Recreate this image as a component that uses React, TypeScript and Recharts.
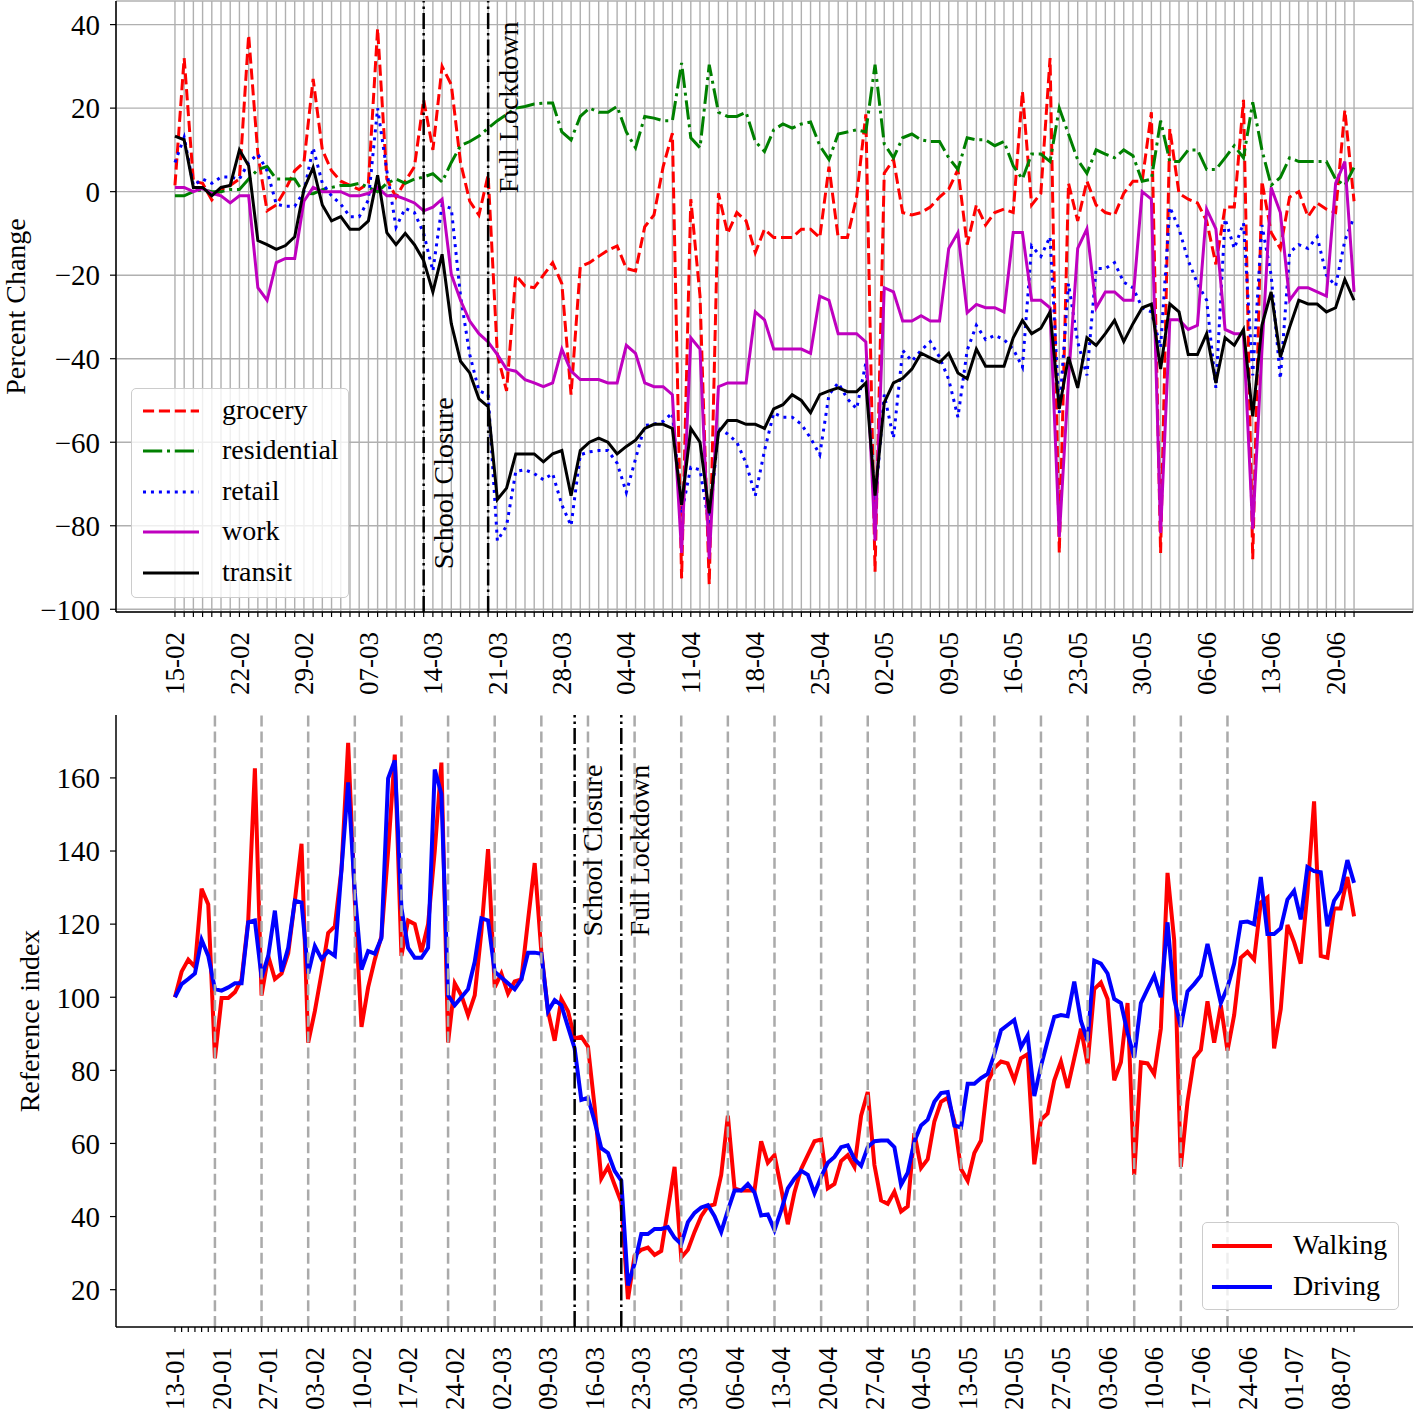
import React from 'react';
import { LineChart, Line, XAxis, YAxis, CartesianGrid, ReferenceLine, Legend } from 'recharts';

const SERIF = '"Liberation Serif", "Times New Roman", Times, serif';

// Google mobility, percent change, one value per day from 15-02
const grocery = [
  1.5, 32, 2.5, 2, -2, 0.5, 1.5, 3, 37.5, 9,
  -4.6, -3.2, 0.5, 5, 7, 27, 10, 5, 2.5, 1.5,
  0.5, 2, 39, 3, -1.3, 2.5, 6, 22, 10, 30,
  25.6, 7, -2.3, -5.6, 4, -39, -47.7, -20, -22.6, -23,
  -20, -17, -22, -48.6, -18, -17, -15.5, -14, -13, -18.4,
  -19, -8.4, -5.6, 6, 14, -92.6, -1.8, -25, -94, -0.4,
  -10, -5, -7, -14.6, -9, -11, -11, -11, -9, -9,
  -11, 6, -11, -11, -1.3, 18.5, -91, 4.4, 7.7, -5,
  -5.6, -5, -3.7, -1.3, 0.6, 5.3, -12.7, -3.2, -8, -5,
  -4.2, -5, 24, -3.2, -0.4, 32, -86.5, 2, -7, 2.5,
  -3.2, -5, -5.6, -0.4, 2.5, 2.5, 19, -86.5, 15, -0.4,
  -1.8, -2.7, -7, -17.4, -3.7, -3.7, 22, -88, 2.5, -9.8,
  -13.6, -1.3, 0, -6, -2.7, -4.2, -5, 19.5, -2.3,
];
const residential = [
  -1, -1, 0, 0.5, 0, 0, 0.5, 0.5, 3, 5.3,
  6, 3, 3, 3, -0.4, -0.5, 0.5, 1, 1.5, 1.5,
  2, 1, 0, 2, 3, 2, 3, 3.5, 4.3, 2.3,
  7, 11, 12, 13.3, 15.2, 17, 18.5, 20, 20.4, 21,
  21.2, 21.2, 14.3, 12.4, 18, 20, 19, 19, 20.4, 14.3,
  10.5, 18, 17.6, 17, 17, 30.8, 12.9, 10.5, 30.4, 19,
  18, 18, 19, 12, 9.6, 14.8, 16.2, 15.2, 16.2, 16.7,
  11, 7.7, 13.8, 14.3, 14.8, 14.3, 30.4, 11.4, 8.1, 12.9,
  13.8, 12.4, 12, 12, 8.1, 5.3, 12.9, 12.4, 12.4, 11,
  12, 6.2, 3, 9, 9, 7.2, 20, 13.8, 7.6, 4.4,
  10, 9, 8.1, 10, 8.6, 2.5, 3, 17, 7.2, 7.2,
  10, 10, 5.3, 5.3, 8.1, 11, 8.1, 21.4, 10, 1.5,
  3.4, 8.1, 7.2, 7.2, 7.2, 7.2, 3, 1.5, 5.8,
];
const retail = [
  7, 13, 1.5, 3, 2, 3.5, 3.5, 3, 7, 9,
  5, -3, -3.5, -3.5, 0, 10.5, 2, -1, -3, -6,
  -6, -2, 20, 5, -8.5, -4, -5, -10, -19, -3.2,
  -4, -25, -39, -47.7, -48.6, -83.6, -80, -67, -66.6, -67.5,
  -69, -67.5, -75, -80, -63, -62.3, -62, -62, -65, -72,
  -64, -56, -55.7, -55, -53, -77, -66, -66.6, -80, -56.7,
  -58, -60, -65, -72.8, -62, -53, -54, -54, -55.7, -59,
  -63, -48.6, -45.8, -49.6, -52, -41, -75, -48.6, -59, -38,
  -40.6, -38, -35.9, -39.6, -45, -54, -38, -32, -35.4, -34.4,
  -35.4, -37.7, -42, -13, -15.5, -10.8, -53, -22, -36, -44,
  -18.4, -18.4, -17, -21.7, -23, -27.8, -28.8, -37.3, -3.7, -8.9,
  -16.5, -22, -26, -47, -6.5, -13.6, -7.5, -44, -8, -20,
  -44.8, -14.6, -12.7, -13.6, -10.8, -20, -22.6, -11.7, -6,
];
const work = [
  1, 1, 0, 0.8, -0.4, -1, -2.7, -1, -1, -23,
  -26, -17, -16, -16, -2.3, 1, 0, 0, 0, -1,
  -1, -0.4, 1, -1, -1, -1.8, -2.7, -4.6, -3.7, -1.8,
  -19.8, -26, -31, -34, -36, -39, -42.5, -43, -45, -45.8,
  -46.7, -45.8, -37.7, -43, -45, -45, -45, -45.8, -45.8, -36.8,
  -38.7, -45.8, -46.7, -46.7, -48.6, -86.5, -35, -37.7, -88, -46.7,
  -45.8, -45.8, -45.8, -28.8, -30.7, -37.7, -37.7, -37.7, -37.7, -38.7,
  -25, -26, -34, -34, -34, -36, -83.6, -23, -24, -31,
  -31, -29.7, -31, -31, -13.6, -9.8, -29, -27, -27.8, -27.8,
  -28.8, -9.8, -9.8, -26, -26, -27.8, -82.7, -45, -13.6, -8.9,
  -27.8, -24, -24, -26, -26, 0, -1.8, -81.7, -30.7, -30.7,
  -33, -32, -4.2, -8.9, -33, -34, -34, -80.8, -38, 1,
  -5, -26, -23, -23, -24, -25, 2, 7.2, -24,
];
const transit = [
  13.3, 12.4, 1, 1, -1, 1, 1.5, 10, 6.2, -11.7,
  -12.7, -13.8, -12.9, -10.8, 0.6, 5.8, -3.2, -7, -6, -9,
  -9, -7, 3.9, -9.8, -12.7, -10, -12.7, -16.5, -24, -15,
  -31.6, -40.6, -43.4, -49.6, -51.5, -73.7, -71, -62.8, -62.8, -62.8,
  -64.7, -62.8, -62, -72.8, -62, -60, -59, -60, -62.8, -61,
  -59.5, -56.7, -55.7, -55.7, -56.7, -75, -56.7, -60, -77, -57.6,
  -54.8, -54.8, -55.7, -55.7, -56.7, -52, -51, -48.6, -50, -52.9,
  -48.6, -47.7, -47, -47.9, -47.9, -45.8, -72.8, -50.5, -45.8, -44.7,
  -42.5, -38.7, -39.8, -40.9, -38.7, -43.4, -44.8, -37.7, -41.8, -41.8,
  -41.8, -35, -30.8, -34, -32.7, -28.8, -52, -39.6, -47, -35,
  -36.8, -34, -30.8, -35.9, -31.6, -27.8, -26.9, -42.5, -26.9, -28.8,
  -39, -39, -34, -45.8, -35, -36.8, -33, -53.8, -32, -24,
  -39.6, -32.5, -26, -26.9, -26.9, -28.8, -27.8, -21, -26,
];

// Apple mobility, reference index, one value per day from 13-01 (11-05 and 12-05 missing)
const walking = [
  100, 107, 110.3, 108.3, 129.7, 125.4, 83.3, 99.8, 99.8, 101.4,
  104.9, 121, 162.6, 100.5, 111.3, 105, 106.5, 112, 126.4, 142,
  87.6, 96.2, 106.5, 117.6, 119.4, 135, 169.6, 126.4, 91.9, 102.7,
  110.3, 116.7, 140, 166.4, 111.3, 121, 120, 112.4, 120, 140,
  164.2, 87.6, 103.8, 100.5, 95.1, 100.5, 118, 140.5, 102.7, 106.5,
  101, 104.3, 104.9, 121, 136.7, 112.4, 96.2, 88.1, 99.5, 96.2,
  88.7, 89.2, 86.5, 70, 50.4, 53.6, 48.7, 43.9, 17.4, 29.3,
  30.9, 31.5, 29.5, 30.6, 42, 53.6, 28.8, 30.9, 35.8, 40.1,
  42.8, 43.3, 51.4, 67.6, 47.7, 47.1, 47.1, 47.1, 60.6, 54.7,
  56.8, 47.7, 37.9, 46.6, 53, 56.8, 60.6, 61.1, 47.7, 48.9,
  55.2, 56.8, 53.6, 67.6, 74.1, 54.1, 44.4, 43.5, 46.8, 41.4,
  42.8, 62.8, 53.3, 55.7, 66, 71.4, 72.5, 66, 53, 49.8,
  57.4, 60.8, 76.8, 80.6, 82.4, 81.9, 77.3, 83.3, 84.4, 54.3,
  66.5, 68.2, 77.3, 82.4, 75.2, 83.3, 91.4, 81.7, 102.2, 104,
  99.5, 77.3, 82.2, 98.4, 51.4, 82.2, 81.9, 79, 91.4, 134,
  115.6, 53.6, 71.4, 83.3, 85.6, 98.9, 87.6, 97.8, 85.4, 95.1,
  110.8, 112.4, 110.3, 125.9, 127.3, 86, 96.8, 119.8, 115.1, 109.2,
  128.6, 153.6, 111.3, 110.8, 124.3, 124.3, 132.9, 122.1,
];
const driving = [
  100, 103.6, 105, 106.5, 115.7, 111.3, 102.2, 101.8, 102.7, 103.8,
  103.8, 120.5, 121, 105.4, 111.3, 123.7, 107, 113.5, 126.4, 125.9,
  106.5, 114, 110.5, 112.6, 111.3, 135, 158.8, 128.6, 107.6, 112.6,
  111.9, 116.2, 159.9, 164.8, 124.3, 113.5, 110.8, 110.8, 113.5, 162.3,
  155.6, 100.5, 97.8, 100, 102.2, 109.7, 121.6, 121, 107, 105.4,
  103.8, 102.2, 104.9, 112.2, 112.2, 111.9, 96.2, 99.2, 97.8, 91.9,
  86, 71.9, 72.5, 66, 58.7, 57.4, 52.5, 49.8, 21.2, 27.1,
  35.2, 35.2, 36.6, 36.6, 37.1, 34.2, 32.5, 38.5, 41, 42.5,
  43.1, 40.1, 35.8, 41.7, 47.1, 47.1, 48.9, 46.6, 40.3, 40.6,
  36.3, 41.7, 47.7, 50.4, 52.5, 51.4, 46.4, 50.9, 54.7, 56.3,
  59, 59.5, 55.7, 53.9, 59, 60.6, 60.8, 60.8, 59, 48.7,
  52, 60.6, 64.9, 66.5, 71.4, 73.8, 74.1, 64.9, 64.4, 76.3,
  76.3, 77.9, 79, 84.4, 91, 92.4, 93.8, 86.3, 89.5, 73,
  81.1, 88.1, 94.6, 95.1, 94.8, 104.3, 93.5, 88.1, 110, 109.2,
  106.5, 99.5, 98.4, 90.3, 83.5, 98.4, 102.2, 105.9, 100, 120.5,
  99.5, 91.9, 101.6, 103.6, 105.9, 114.6, 106.5, 98.4, 102.7, 109.2,
  120.5, 120.7, 120, 132.9, 117.3, 117.3, 118.9, 126.7, 129.1, 121.3,
  135.6, 134.5, 134.2, 119.4, 126.4, 129.1, 137.5, 131.3,
];

const topStart = [2020, 2, 15];
const bottomStart = [2020, 1, 13];
const bottomMissing = ['11-05', '12-05'];
const lastSundayLine = '21-06';
const schoolClosure = '13-03';
const fullLockdown = '20-03';
const labelEvery = 7;

const topYTicks = [40, 20, 0, -20, -40, -60, -80, -100];
const bottomYTicks = [20, 40, 60, 80, 100, 120, 140, 160];

const topSeries = [
  { key: 'grocery', values: grocery, color: '#ff0000', dash: '11.1 4.8' },
  { key: 'residential', values: residential, color: '#008000', dash: '19.2 4.8 3 4.8' },
  { key: 'retail', values: retail, color: '#0000ff', dash: '3 4.95' },
  { key: 'work', values: work, color: '#bf00bf', dash: undefined },
  { key: 'transit', values: transit, color: '#000000', dash: undefined },
];
const bottomSeries = [
  { key: 'Walking', values: walking, color: '#ff0000', dash: undefined },
  { key: 'Driving', values: driving, color: '#0000ff', dash: undefined },
];

const pad2 = (n: number) => String(n).padStart(2, '0');

function buildDays(start: number[], count: number, skip: string[] = []) {
  const days: { label: string; sunday: boolean }[] = [];
  const d = new Date(start[0], start[1] - 1, start[2]);
  while (days.length < count) {
    const label = `${pad2(d.getDate())}-${pad2(d.getMonth() + 1)}`;
    if (!skip.includes(label)) days.push({ label, sunday: d.getDay() === 0 });
    d.setDate(d.getDate() + 1);
  }
  return days;
}

// same 5% padding matplotlib puts round the data
const autoDomain = (lo: number, hi: number): [number, number] => {
  const m = (hi - lo) * 0.05;
  return [lo - m, hi + m];
};

const minus = (v: number) => (v < 0 ? `\u2212${Math.abs(v)}` : `${v}`);

const topDays = buildDays(topStart, grocery.length);
const topData = topDays.map((d, i) => {
  const row: Record<string, number> = { i };
  topSeries.forEach((s) => (row[s.key] = s.values[i]));
  return row;
});
const topAll = topSeries.flatMap((s) => s.values);
const topXDomain = autoDomain(0, grocery.length - 1);
const topYDomain = autoDomain(Math.min(...topAll), Math.max(...topAll));

const bottomDays = buildDays(bottomStart, walking.length, bottomMissing);
const bottomData = bottomDays.map((d, i) => {
  const row: Record<string, number> = { i };
  bottomSeries.forEach((s) => (row[s.key] = s.values[i]));
  return row;
});
const bottomAll = bottomSeries.flatMap((s) => s.values);
const bottomXDomain = autoDomain(0, walking.length - 1);
const bottomYDomain = autoDomain(Math.min(...bottomAll), Math.max(...bottomAll));
const sundayEnd = bottomDays.findIndex((d) => d.label === lastSundayLine);
const sundays = bottomDays.map((d, i) => (d.sunday && i <= sundayEnd ? i : -1)).filter((i) => i >= 0);

const idxOf = (days: { label: string }[], label: string) => days.findIndex((d) => d.label === label);

const DayTick = (props: any) => {
  const { x, y, payload, days, labelSize } = props;
  const i = payload.value;
  if (i % labelEvery !== 0 || !days[i]) return <g />;
  const ty = y + 15;
  return (
    <g>
      <text
        x={x}
        y={ty}
        transform={`rotate(-90 ${x} ${ty})`}
        textAnchor="end"
        dy="0.34em"
        fontSize={labelSize}
        fontFamily={SERIF}
        fill="#000"
      >
        {days[i].label}
      </text>
    </g>
  );
};

const AxisTitle = (props: any) => {
  const { viewBox, caption, shiftX } = props;
  const cx = viewBox.x + shiftX;
  const cy = viewBox.y + viewBox.height / 2;
  return (
    <text x={cx} y={cy} transform={`rotate(-90 ${cx} ${cy})`} textAnchor="middle" dy="0.35em" fontSize={28} fontFamily={SERIF} fill="#000">
      {caption}
    </text>
  );
};

const EventLabel = (props: any) => {
  const { viewBox, caption, shiftX, startValue, yDomain } = props;
  const x = viewBox.x + shiftX;
  const y = viewBox.y + ((yDomain[1] - startValue) / (yDomain[1] - yDomain[0])) * viewBox.height;
  return (
    <text x={x} y={y} transform={`rotate(-90 ${x} ${y})`} textAnchor="start" dy="0.35em" fontSize={28} fontFamily={SERIF} fill="#000">
      {caption}
    </text>
  );
};

const LegendBox = ({ items, width, height, padTop, rowH, sampleX, sampleW, textX, lineW }: any) => (
  <div
    style={{
      position: 'relative',
      width,
      height,
      boxSizing: 'border-box',
      background: 'rgba(255,255,255,0.8)',
      border: '1px solid #cccccc',
      borderRadius: 5,
      fontFamily: SERIF,
      fontSize: 28,
      color: '#000',
    }}
  >
    {items.map((it: any, k: number) => {
      const cy = padTop + rowH * k + rowH / 2;
      return (
        <React.Fragment key={it.key}>
          <svg style={{ position: 'absolute', left: sampleX, top: cy - 5 }} width={sampleW} height={10}>
            <line x1={0} y1={5} x2={sampleW} y2={5} stroke={it.color} strokeWidth={lineW} strokeDasharray={it.dash} />
          </svg>
          <span style={{ position: 'absolute', left: textX, top: cy, transform: 'translateY(-52%)', lineHeight: 1, whiteSpace: 'nowrap' }}>
            {it.key}
          </span>
        </React.Fragment>
      );
    })}
  </div>
);

const axisStroke = { stroke: '#000', strokeWidth: 1.5 };

const App: React.FC = () => {
  const topSC = idxOf(topDays, schoolClosure);
  const topFL = idxOf(topDays, fullLockdown);
  const botSC = idxOf(bottomDays, schoolClosure);
  const botFL = idxOf(bottomDays, fullLockdown);

  return (
    <div style={{ position: 'absolute', left: 0, top: 0, width: 1415, height: 1417, background: '#fff', fontFamily: SERIF }}>
      <style>{`.recharts-wrapper svg text { font-family: ${SERIF}; }`}</style>
      <LineChart width={1415} height={710} data={topData} margin={{ top: 1, right: 2, bottom: 0, left: 0 }}>
        <CartesianGrid stroke="#b0b0b0" strokeWidth={1.4} />
        <XAxis
          dataKey="i"
          type="number"
          domain={topXDomain}
          allowDataOverflow
          ticks={topData.map((r) => r.i)}
          interval={0}
          height={98}
          tickSize={5}
          tickMargin={0}
          axisLine={axisStroke}
          tickLine={{ stroke: '#000', strokeWidth: 1.2 }}
          tick={<DayTick days={topDays} labelSize={27} />}
        />
        <XAxis xAxisId="frame" orientation="top" type="number" domain={[0, 1]} height={0} tick={false} tickLine={false} axisLine={axisStroke} />
        <YAxis
          type="number"
          domain={topYDomain}
          allowDataOverflow
          ticks={topYTicks}
          interval={0}
          width={116}
          tickSize={6}
          tickMargin={10}
          axisLine={axisStroke}
          tickLine={{ stroke: '#000', strokeWidth: 1.2 }}
          tick={{ fontSize: 29, fill: '#000', fontFamily: SERIF }}
          tickFormatter={minus}
          label={<AxisTitle caption="Percent Change" shiftX={15.5} />}
        />
        <YAxis yAxisId="frame" orientation="right" type="number" domain={[0, 1]} width={0} tick={false} tickLine={false} axisLine={axisStroke} />
        {topSeries.map((s) => (
          <Line
            key={s.key}
            type="linear"
            dataKey={s.key}
            stroke={s.color}
            strokeWidth={3}
            strokeDasharray={s.dash}
            dot={false}
            activeDot={false}
            isAnimationActive={false}
          />
        ))}
        <ReferenceLine
          x={topSC}
          stroke="#000"
          strokeWidth={2.5}
          strokeDasharray="16 4 2.5 4"
          label={<EventLabel caption="School Closure" shiftX={20} startValue={-90.4} yDomain={topYDomain} />}
        />
        <ReferenceLine
          x={topFL}
          stroke="#000"
          strokeWidth={2.5}
          strokeDasharray="16 4 2.5 4"
          label={<EventLabel caption="Full Lockdown" shiftX={20} startValue={-0.4} yDomain={topYDomain} />}
        />
        <Legend
          layout="vertical"
          align="center"
          verticalAlign="middle"
          wrapperStyle={{ left: 131, top: 388, width: 218, height: 210 }}
          content={() => (
            <LegendBox items={topSeries} width={218} height={210} padTop={1.5} rowH={40.5} sampleX={11} sampleW={56} textX={90} lineW={3} />
          )}
        />
      </LineChart>

      <LineChart width={1415} height={707} data={bottomData} margin={{ top: 5, right: 2, bottom: 0, left: 0 }}>
        <XAxis
          dataKey="i"
          type="number"
          domain={bottomXDomain}
          allowDataOverflow
          ticks={bottomData.map((r) => r.i)}
          interval={0}
          height={90}
          tickSize={5}
          tickMargin={0}
          axisLine={axisStroke}
          tickLine={{ stroke: '#000', strokeWidth: 1.2 }}
          tick={<DayTick days={bottomDays} labelSize={27} />}
        />
        <XAxis xAxisId="frame" orientation="top" type="number" domain={[0, 1]} height={0} tick={false} tickLine={false} axisLine={axisStroke} />
        <YAxis
          type="number"
          domain={bottomYDomain}
          allowDataOverflow
          ticks={bottomYTicks}
          interval={0}
          width={116}
          tickSize={6}
          tickMargin={10}
          axisLine={axisStroke}
          tickLine={{ stroke: '#000', strokeWidth: 1.2 }}
          tick={{ fontSize: 29, fill: '#000', fontFamily: SERIF }}
          label={<AxisTitle caption="Reference index" shiftX={29} />}
        />
        <YAxis yAxisId="frame" orientation="right" type="number" domain={[0, 1]} width={0} tick={false} tickLine={false} axisLine={axisStroke} />
        {bottomSeries.map((s) => (
          <Line
            key={s.key}
            type="linear"
            dataKey={s.key}
            stroke={s.color}
            strokeWidth={4}
            dot={false}
            activeDot={false}
            isAnimationActive={false}
          />
        ))}
        {sundays.map((i) => (
          <ReferenceLine key={`sun-${i}`} x={i} stroke="#aaaaaa" strokeWidth={2.5} strokeDasharray="11 4.8" />
        ))}
        <ReferenceLine
          x={botSC}
          stroke="#000"
          strokeWidth={2.5}
          strokeDasharray="16 4 2.5 4"
          label={<EventLabel caption="School Closure" shiftX={17.5} startValue={116.6} yDomain={bottomYDomain} />}
        />
        <ReferenceLine
          x={botFL}
          stroke="#000"
          strokeWidth={2.5}
          strokeDasharray="16 4 2.5 4"
          label={<EventLabel caption="Full Lockdown" shiftX={17.5} startValue={116.6} yDomain={bottomYDomain} />}
        />
        <Legend
          layout="vertical"
          align="center"
          verticalAlign="middle"
          wrapperStyle={{ left: 1202, top: 512, width: 197, height: 88 }}
          content={() => (
            <LegendBox items={bottomSeries} width={197} height={88} padTop={2.5} rowH={41} sampleX={9} sampleW={60} textX={90} lineW={4} />
          )}
        />
      </LineChart>
    </div>
  );
};

export default App;
